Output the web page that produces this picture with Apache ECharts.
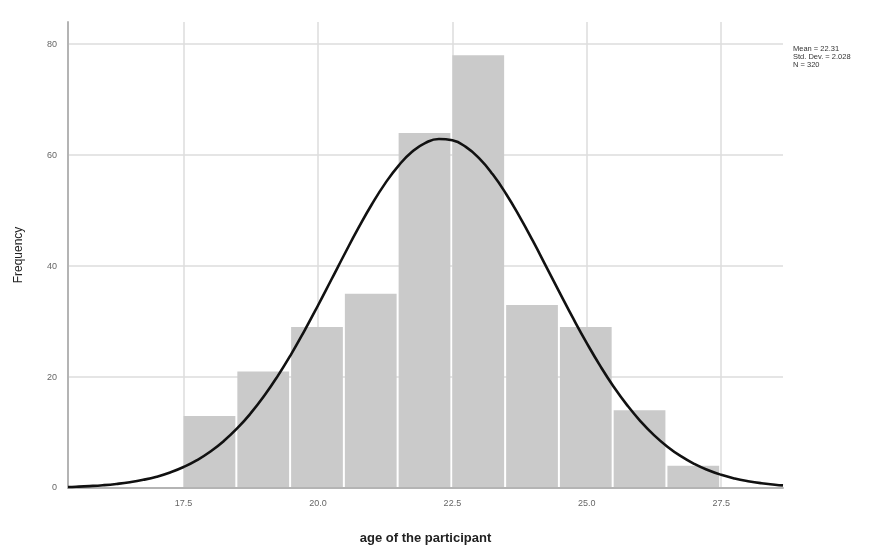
<!DOCTYPE html>
<html><head><meta charset="utf-8">
<script src="https://cdn.jsdelivr.net/npm/echarts@6/dist/echarts.min.js"></script>
<style>html,body{margin:0;padding:0;background:#fff}#c{width:896px;height:550px}</style>
</head><body><div id="c"></div>
<script>
// Histogram bins (lower edge, upper edge) and counts
var binStart = [17.5, 18.5, 19.5, 20.5, 21.5, 22.5, 23.5, 24.5, 25.5, 26.5];
var binEnd   = [18.5, 19.5, 20.5, 21.5, 22.5, 23.5, 24.5, 25.5, 26.5, 27.5];
var counts   = [13, 21, 29, 35, 64, 78, 33, 29, 14, 4];
// Normal curve
var curveX = [15.35, 15.5, 15.75, 16, 16.25, 16.5, 16.75, 17, 17.25, 17.5, 17.75, 18, 18.25, 18.5, 18.75, 19, 19.25, 19.5, 19.75, 20, 20.25, 20.5, 20.75, 21, 21.25, 21.5, 21.75, 22, 22.25, 22.5, 22.75, 23, 23.25, 23.5, 23.75, 24, 24.25, 24.5, 24.75, 25, 25.25, 25.5, 25.75, 26, 26.25, 26.5, 26.75, 27, 27.25, 27.5, 27.75, 28, 28.25, 28.5, 28.65];
var curveY = [0.17, 0.22, 0.34, 0.5, 0.73, 1.04, 1.47, 2.04, 2.8, 3.78, 5.02, 6.58, 8.49, 10.78, 13.49, 16.62, 20.17, 24.1, 28.38, 32.9, 37.58, 42.27, 46.83, 51.1, 54.91, 58.12, 60.6, 62.22, 62.92, 62.67, 61.48, 59.41, 56.54, 53.0, 48.92, 44.49, 39.83, 35.14, 30.52, 26.12, 22.01, 18.27, 14.94, 12.03, 9.54, 7.45, 5.73, 4.34, 3.24, 2.38, 1.72, 1.23, 0.86, 0.6, 0.47];
// Tick labels
var xTicks = [17.5, 20.0, 22.5, 25.0, 27.5];
var yTicks = [0, 20, 40, 60, 80];
var statsText = ['Mean = 22.31', 'Std. Dev. = 2.028', 'N = 320'];

var histData = binStart.map(function (s, i) { return [s, binEnd[i], counts[i]]; });
var curveData = curveX.map(function (x, i) { return [x, curveY[i]]; });

var chart = echarts.init(document.getElementById('c'), null, {renderer: 'canvas'});
var font = '"Liberation Sans", Arial, sans-serif';
chart.setOption({
  animation: false,
  backgroundColor: '#fff',
  grid: {left: 68, right: 113, top: 22, bottom: 60},
  xAxis: {
    type: 'value', min: 15.35, max: 28.65,
    name: 'age of the participant', nameLocation: 'middle', nameGap: 44,
    nameTextStyle: {fontFamily: font, fontSize: 13, fontWeight: 'bold', color: '#222'},
    axisLine: {show: true, onZero: false, lineStyle: {color: '#b4b4b4', width: 2}},
    axisTick: {show: false, customValues: xTicks},
    axisLabel: {customValues: xTicks, fontFamily: font, fontSize: 9, color: '#666', margin: 11,
      formatter: function (v) { return v.toFixed(1); }},
    splitLine: {show: true, lineStyle: {color: '#dcdcdc', width: 1.5}}
  },
  yAxis: {
    type: 'value', min: 0, max: 84,
    name: 'Frequency', nameLocation: 'middle', nameGap: 43,
    nameTextStyle: {fontFamily: font, fontSize: 12, color: '#222'},
    axisLine: {show: true, lineStyle: {color: '#b4b4b4', width: 2}},
    axisTick: {show: false, customValues: yTicks},
    axisLabel: {customValues: yTicks, fontFamily: font, fontSize: 9, color: '#666', margin: 11},
    splitLine: {show: true, lineStyle: {color: '#dcdcdc', width: 1.5}}
  },
  series: [
    {
      type: 'custom',
      data: histData,
      renderItem: function (params, api) {
        var p0 = api.coord([api.value(0), api.value(2)]);
        var p1 = api.coord([api.value(1), 0]);
        return {
          type: 'rect',
          shape: {x: p0[0], y: p0[1], width: p1[0] - p0[0] - 2, height: p1[1] - p0[1] - 1},
          style: {fill: '#cacaca'}
        };
      },
      encode: {x: [0, 1], y: 2},
      z: 2
    },
    {
      type: 'line', data: curveData, smooth: true, showSymbol: false, symbol: 'none',
      lineStyle: {color: '#111', width: 2.6}, z: 5, clip: false
    }
  ],
  graphic: [{
    type: 'text', left: 793, top: 45, z: 10,
    style: {text: statsText.join('\n'), font: '7.5px ' + font, fill: '#333', lineHeight: 8}
  }]
});
</script></body></html>
